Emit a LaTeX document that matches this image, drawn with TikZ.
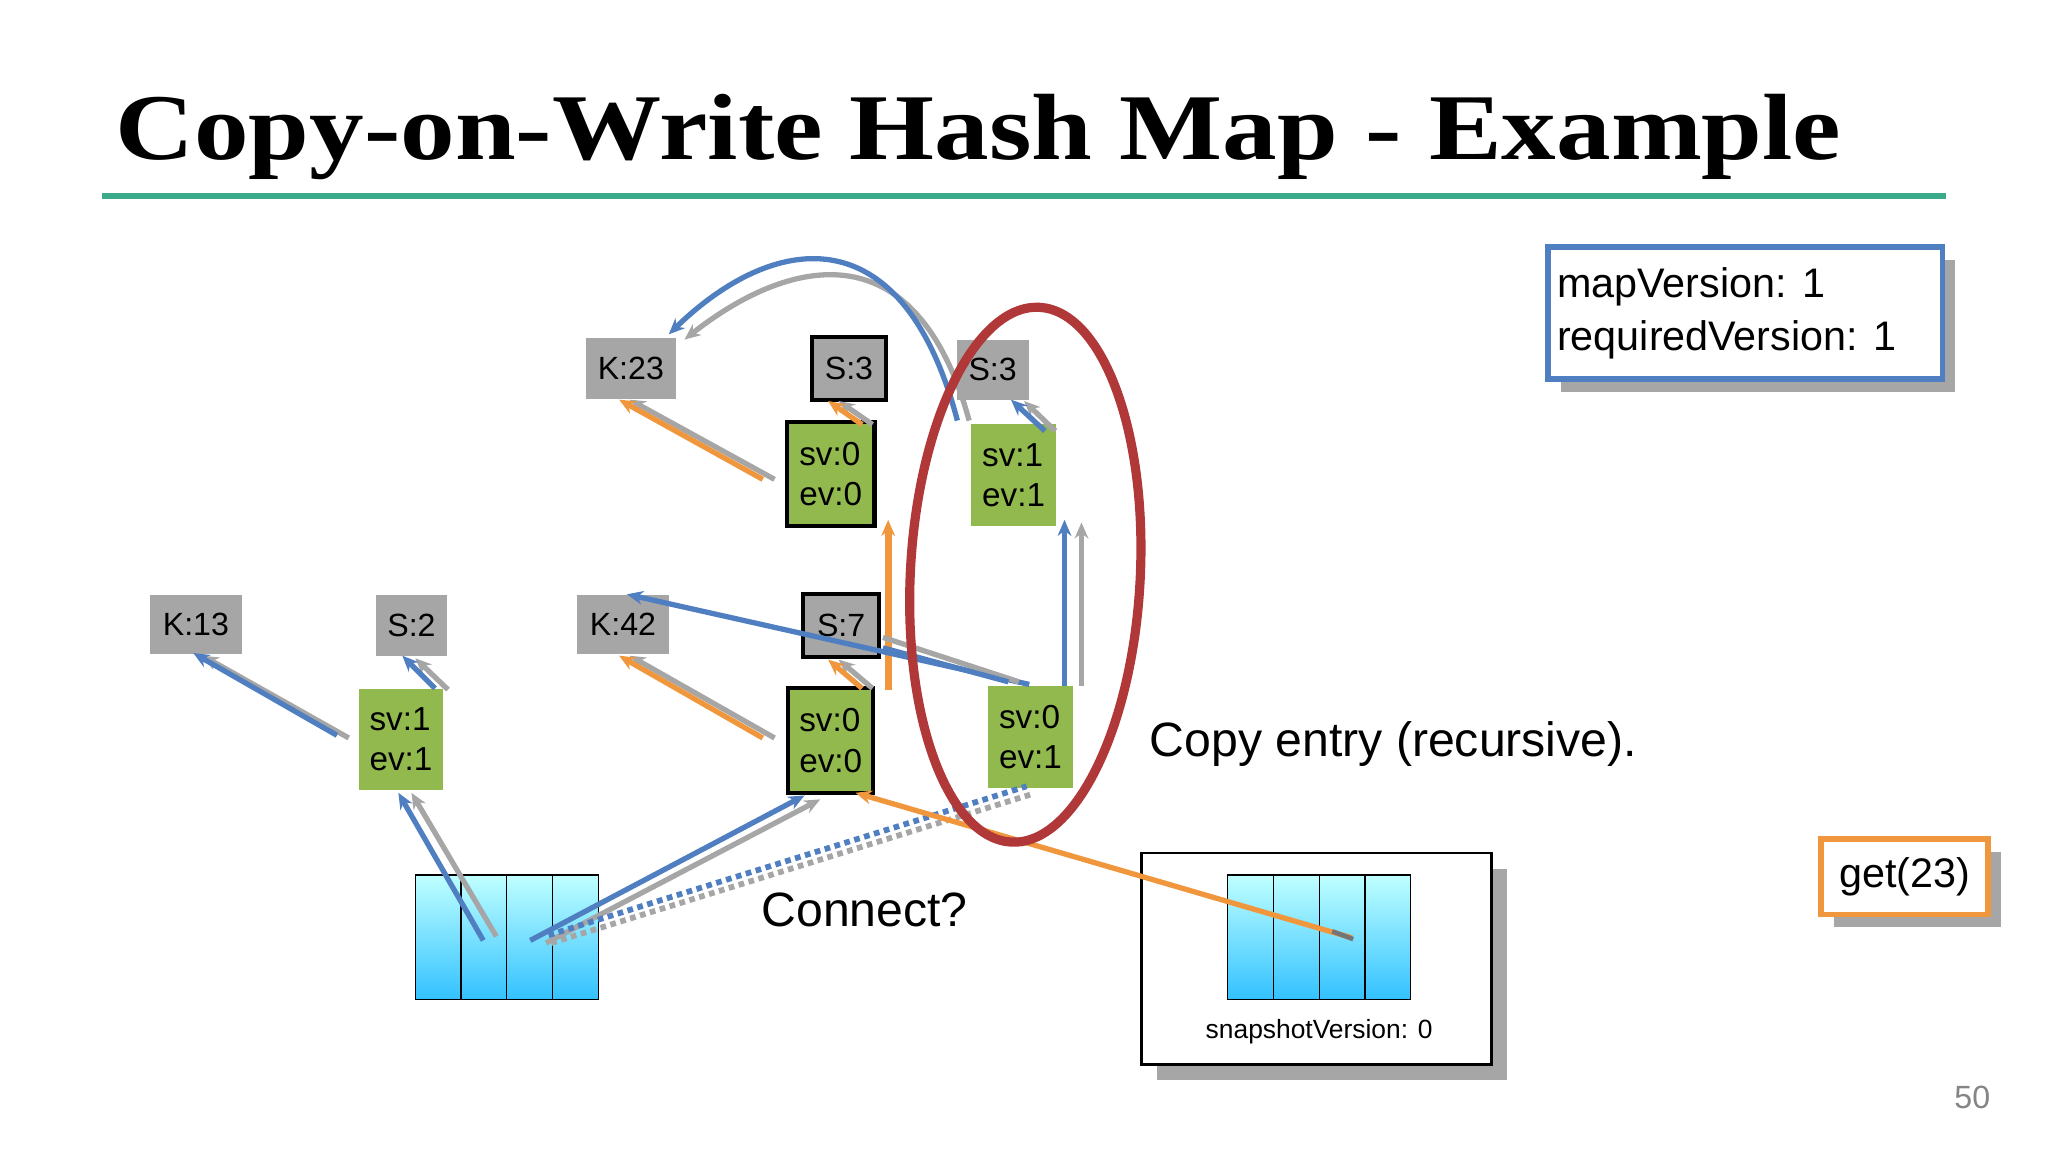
\documentclass[tikz,border=0pt]{standalone}
\usepackage{fontspec}
\setmainfont{Liberation Sans}
\newfontfamily\titlefont{Liberation Serif}
\usetikzlibrary{arrows.meta}
\definecolor{bl}{HTML}{4F7FC0}
\definecolor{gr}{HTML}{A6A6A6}
\definecolor{og}{HTML}{F0963C}
\definecolor{lg}{HTML}{92B94E}
\definecolor{teal}{HTML}{3AAA8A}
\definecolor{rd}{HTML}{B03838}
\begin{document}
\begin{tikzpicture}[x=0.02cm,y=-0.02cm,
 key/.style={fill=gr,font=\fontsize{14}{16}\selectfont,inner sep=0pt},
 kb/.style={key,draw=black,line width=1.8pt},
 ent/.style={fill=lg,font=\fontsize{14.5}{17.5}\selectfont,align=left,inner sep=0pt},
 eb/.style={ent,draw=black,line width=1.8pt},
 ar/.style={line width=2.3pt,-{Stealth[length=7pt,width=6pt]}},
 cell/.style={draw=black,top color=cyan!25,bottom color=cyan!70!blue!80,line width=0.6pt}]
\useasboundingbox (0,0) rectangle (1568,882);
\node[anchor=base west,font=\titlefont\bfseries\fontsize{41}{44}\selectfont,inner sep=0,xscale=1.16] (title) at (88,122) {Copy-on-Write Hash Map - Example};
\draw[teal,line width=2.5pt] (78,150) -- (1490,150);
% info box
\fill[gr] (1195,199) rectangle (1497,300);
\node[draw=bl,line width=2.5pt,fill=white,minimum width=302*0.02cm,minimum height=101*0.02cm,anchor=north west,inner sep=4pt] (info) at (1183,187) {};
\node[anchor=west,align=left,font=\fontsize{18}{23}\selectfont] at (1186,240) {mapVersion: 1\\requiredVersion: 1};
\fill[gr] (1404,652) rectangle (1532,710);
\node[draw=og,line width=2.5pt,fill=white,minimum width=128*0.02cm,minimum height=58*0.02cm,anchor=north west,font=\fontsize{18}{20}\selectfont] (get) at (1392,640) {get(23)};
% keys
\node[key,minimum width=69*0.02cm,minimum height=47*0.02cm] (k23) at (483,282) {K:23};
\node[kb,minimum width=57*0.02cm,minimum height=48*0.02cm] (s3a) at (650,282) {S:3};
\node[key,minimum width=55*0.02cm,minimum height=46*0.02cm] (s3b) at (760,283) {S:3};
\node[key,minimum width=70*0.02cm,minimum height=45*0.02cm] (k13) at (150,478) {K:13};
\node[key,minimum width=54*0.02cm,minimum height=47*0.02cm] (s2) at (315,479) {S:2};
\node[key,minimum width=70*0.02cm,minimum height=45*0.02cm] (k42) at (477,478) {K:42};
\node[kb,minimum width=58*0.02cm,minimum height=48*0.02cm] (s7) at (644,479) {S:7};
% entries
\node[eb,minimum width=67*0.02cm,minimum height=80*0.02cm] (e1) at (636,363) {sv:0\\ev:0};
\node[ent,minimum width=65*0.02cm,minimum height=78*0.02cm] (e2) at (776,364) {sv:1\\ev:1};
\node[ent,minimum width=65*0.02cm,minimum height=77*0.02cm] (e3) at (307,566) {sv:1\\ev:1};
\node[eb,minimum width=65*0.02cm,minimum height=80*0.02cm] (e4) at (636,567) {sv:0\\ev:0};
\node[ent,minimum width=65*0.02cm,minimum height=78*0.02cm] (e5) at (789,564) {sv:0\\ev:1};
% arrays
\foreach \i in {0,1,2,3}{\draw[cell] (318+35*\i,670) rectangle (353+35*\i,765);}
\coordinate (a1) at (378,718); \coordinate (a2) at (408,720); \coordinate (a3) at (420,720);
\fill[gr] (886,665) rectangle (1154,827);
\draw[line width=1.2pt,fill=white] (874,653) rectangle (1142,815);
\foreach \i in {0,1,2,3}{\draw[cell] (940+35*\i,670) rectangle (975+35*\i,765);}
\node[font=\fontsize{11.5}{13}\selectfont] (sv) at (1010,790) {snapshotVersion: 0};
\coordinate (a4) at (1035,718);
% arrows
\draw[ar,gr] (267,565) -- (155,502);
\draw[ar,bl] (258,563) -- (148,500);
\draw[ar,gr] (343,528) -- (318,504);
\draw[ar,bl] (333,527) -- (308,502);
\draw[ar,gr] (380,717) -- (315,607);
\draw[ar,bl] (370,720) -- (305,607);
\draw[ar,gr] (418,722) -- (628,612);
\draw[ar,bl] (406,720) -- (616,609);
\draw[line width=2.5pt,gr,dotted] (422,722) -- (790,608);
\draw[line width=2.5pt,bl,dotted] (420,716) -- (786,602);
\draw[ar,gr] (593,565) -- (482,502);
\draw[ar,og] (584,565) -- (474,502);
\draw[ar,gr] (668,527) -- (642,505);
\draw[ar,og] (660,527) -- (634,505);
\draw[ar,gr] (593,367) -- (482,306);
\draw[ar,og] (584,367) -- (474,306);
\draw[ar,gr] (668,325) -- (642,307);
\draw[ar,og] (660,325) -- (634,307);
\draw[ar,gr] (808,330) -- (784,307);
\draw[ar,bl] (800,330) -- (774,306);
\draw[ar,og,line width=3pt] (680,528) -- (680,398);
\draw[ar,bl] (815,525) -- (815,398);
\draw[ar,gr] (828,525) -- (828,400);
\draw[ar,bl] (788,524) -- (480,455);
\draw[line width=2.3pt,gr] (780,522) -- (676,488);
\draw[line width=2.3pt,bl] (772,522) -- (676,496);
\draw[ar,gr] (742,322) .. controls (700,170) and (600,200) .. (524,260);
\draw[ar,bl] (733,322) .. controls (690,160) and (590,180) .. (512,256);
\draw[ar,og] (a4) -- (655,607);
\draw[line width=2pt,gr!70!black] (1020,713) -- (1036,719);
% ellipse
\draw[rd,line width=4pt,rotate around={-3:(785,440)}] (785,440) ellipse [x radius=88,y radius=205];
% labels
\node[anchor=west,font=\fontsize{21}{24}\selectfont] (ce) at (874,570) {Copy entry (recursive).};
\node[font=\fontsize{21}{24}\selectfont] (cn) at (662,697) {Connect?};
\node[gr!80!black,font=\fontsize{14}{16}\selectfont] (pg) at (1510,840) {50};
\end{tikzpicture}
\end{document}
